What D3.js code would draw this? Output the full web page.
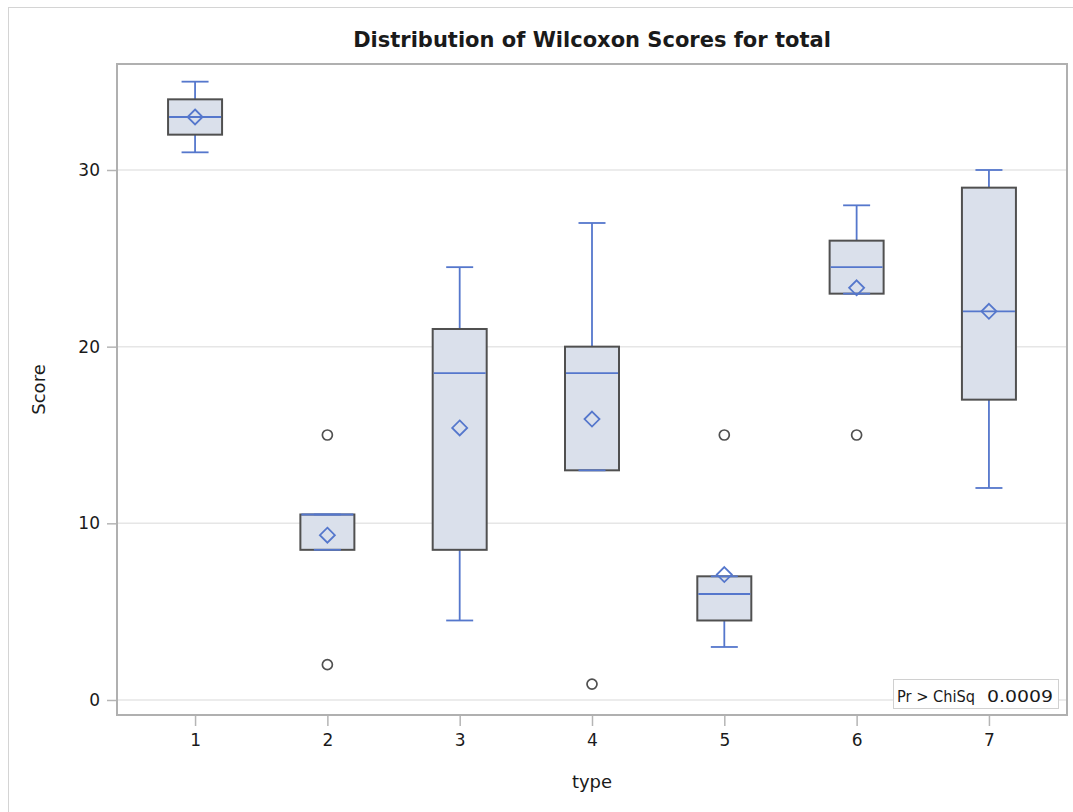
<!DOCTYPE html>
<html>
<head>
<meta charset="utf-8">
<script src="https://cdn.jsdelivr.net/npm/d3@7"></script>
<style>
  html, body { margin: 0; padding: 0; background: #fff; }
  svg { display: block; }
  text { font-family: "DejaVu Sans", sans-serif; fill: #1a1a1a; }
</style>
</head>
<body>
<div id="chart"></div>
<script>
// ---- Data ----
const categories   = ["1", "2", "3", "4", "5", "6", "7"];
const whiskerLow   = [31, 8.5, 4.5, 13, 3, 23, 12];
const q1           = [32, 8.5, 8.5, 13, 4.5, 23, 17];
const medians      = [33, 10.5, 18.5, 18.5, 6, 24.5, 22];
const q3           = [34, 10.5, 21, 20, 7, 26, 29];
const whiskerHigh  = [35, 10.5, 24.5, 27, 7, 28, 30];
const means        = [33, 9.33, 15.4, 15.9, 7.1, 23.33, 22];
const outlierType  = ["2", "2", "4", "5", "6"];
const outlierValue = [15, 2, 0.9, 15, 15];
const yTicks       = [0, 10, 20, 30];
const titleText    = "Distribution of Wilcoxon Scores for total";
const xLabel       = "type";
const yLabel       = "Score";
const statLabel    = "Pr > ChiSq";
const statValue    = "0.0009";

// ---- Layout ----
const W = 1073, H = 812;
const plot = { left: 117, right: 1067, top: 64, bottom: 715 };
const blue = "#5577cc", boxFill = "#dae0eb", boxStroke = "#505050";
const boxW = 54, capW = 27;

const svg = d3.select("#chart").append("svg").attr("width", W).attr("height", H);

// outer frame
svg.append("rect").attr("x", 8.5).attr("y", 7.5).attr("width", W + 20).attr("height", H + 20)
  .attr("fill", "none").attr("stroke", "#d4d4d4").attr("stroke-width", 1);

const x = d3.scalePoint().domain(categories).range([plot.left, plot.right]).padding(0.59);
const y = d3.scaleLinear().domain([-0.85, 36]).range([plot.bottom, plot.top]);

// gridlines
svg.append("g").selectAll("line").data(yTicks).join("line")
  .attr("x1", plot.left).attr("x2", plot.right)
  .attr("y1", d => y(d)).attr("y2", d => y(d))
  .attr("stroke", "#e6e6e6").attr("stroke-width", 1.5);

// axes
const yAxis = svg.append("g").attr("transform", `translate(${plot.left},0)`)
  .call(d3.axisLeft(y).tickValues(yTicks).tickSize(10).tickPadding(7));
const xAxis = svg.append("g").attr("transform", `translate(0,${plot.bottom})`)
  .call(d3.axisBottom(x).tickSize(11).tickPadding(8));
[yAxis, xAxis].forEach(a => {
  a.select(".domain").remove();
  a.selectAll(".tick line").attr("stroke", "#b5b5b5").attr("stroke-width", 1.5);
  a.selectAll(".tick text").style("font-family", "DejaVu Sans, sans-serif")
    .style("font-size", "17px").attr("fill", "#1a1a1a");
});

// plot frame
svg.append("rect").attr("x", plot.left).attr("y", plot.top)
  .attr("width", plot.right - plot.left).attr("height", plot.bottom - plot.top)
  .attr("fill", "none").attr("stroke", "#b0b0b0").attr("stroke-width", 2);

// boxes
const boxes = categories.map((c, i) => ({
  c, lo: whiskerLow[i], q1: q1[i], med: medians[i], q3: q3[i], hi: whiskerHigh[i], mean: means[i]
}));
const g = svg.append("g");
const bg = g.selectAll("g.box").data(boxes).join("g").attr("class", "box");

// whisker stems
bg.append("line").attr("x1", d => x(d.c)).attr("x2", d => x(d.c))
  .attr("y1", d => y(d.q3)).attr("y2", d => y(d.hi))
  .attr("stroke", blue).attr("stroke-width", 1.8);
bg.append("line").attr("x1", d => x(d.c)).attr("x2", d => x(d.c))
  .attr("y1", d => y(d.q1)).attr("y2", d => y(d.lo))
  .attr("stroke", blue).attr("stroke-width", 1.8);
// box
bg.append("rect").attr("x", d => x(d.c) - boxW / 2).attr("width", boxW)
  .attr("y", d => y(d.q3)).attr("height", d => y(d.q1) - y(d.q3))
  .attr("fill", boxFill).attr("stroke", boxStroke).attr("stroke-width", 2);
// caps
bg.append("line").attr("x1", d => x(d.c) - capW / 2).attr("x2", d => x(d.c) + capW / 2)
  .attr("y1", d => y(d.hi)).attr("y2", d => y(d.hi))
  .attr("stroke", blue).attr("stroke-width", 1.8);
bg.append("line").attr("x1", d => x(d.c) - capW / 2).attr("x2", d => x(d.c) + capW / 2)
  .attr("y1", d => y(d.lo)).attr("y2", d => y(d.lo))
  .attr("stroke", blue).attr("stroke-width", 1.8);
// median
bg.append("line").attr("x1", d => x(d.c) - boxW / 2 + 1).attr("x2", d => x(d.c) + boxW / 2 - 1)
  .attr("y1", d => y(d.med)).attr("y2", d => y(d.med))
  .attr("stroke", blue).attr("stroke-width", 1.8);
// mean diamond
bg.append("path")
  .attr("d", d => { const cx = x(d.c), cy = y(d.mean), r = 7.5;
    return `M${cx},${cy - r}L${cx + r},${cy}L${cx},${cy + r}L${cx - r},${cy}Z`; })
  .attr("fill", "none").attr("stroke", blue).attr("stroke-width", 1.8);

// outliers
g.selectAll("circle.out").data(outlierType.map((t, i) => ({ t, v: outlierValue[i] })))
  .join("circle").attr("class", "out")
  .attr("cx", d => x(d.t)).attr("cy", d => y(d.v)).attr("r", 5)
  .attr("fill", "none").attr("stroke", "#505050").attr("stroke-width", 1.7);

// title
svg.append("text").attr("x", (plot.left + plot.right) / 2).attr("y", 47)
  .attr("text-anchor", "middle").style("font-size", "21px").style("font-weight", "bold")
  .attr("fill", "#111").text(titleText);

// axis labels
svg.append("text").attr("x", (plot.left + plot.right) / 2).attr("y", 788)
  .attr("text-anchor", "middle").style("font-size", "18px").text(xLabel);
svg.append("text").attr("transform", `translate(45,${(plot.top + plot.bottom) / 2}) rotate(-90)`)
  .attr("text-anchor", "middle").style("font-size", "18px").text(yLabel);

// stat inset
svg.append("rect").attr("x", 893.5).attr("y", 679.5).attr("width", 165).attr("height", 29)
  .attr("fill", "#fff").attr("stroke", "#d0d0d0").attr("stroke-width", 1);
svg.append("text").attr("x", 897).attr("y", 702).style("font-size", "16px")
  .attr("textLength", 78).attr("lengthAdjust", "spacingAndGlyphs").text(statLabel);
svg.append("text").attr("x", 987).attr("y", 702).style("font-size", "16px")
  .attr("textLength", 66).attr("lengthAdjust", "spacingAndGlyphs").text(statValue);
</script>
</body>
</html>
